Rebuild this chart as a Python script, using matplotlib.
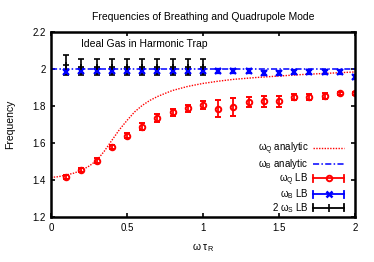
import matplotlib
matplotlib.use("Agg")
import matplotlib.pyplot as plt
from matplotlib.legend_handler import HandlerBase
from matplotlib.lines import Line2D

plt.rcParams['font.family'] = ['Liberation Sans', 'DejaVu Sans']
plt.rcParams['mathtext.fontset'] = 'custom'
plt.rcParams['mathtext.rm'] = 'Liberation Sans'
plt.rcParams['mathtext.it'] = 'Liberation Sans'

# analytic quadrupole curve
ana_x = [0.0, 0.05, 0.1, 0.15, 0.2, 0.25, 0.3, 0.35, 0.4, 0.45, 0.5, 0.55, 0.6, 0.65, 0.7, 0.75, 0.8, 0.9,
         1.0, 1.1, 1.2, 1.35, 1.5, 1.65, 1.8, 1.9, 2.0]
ana_q = [1.414, 1.418, 1.427, 1.437, 1.452, 1.475, 1.505, 1.555, 1.614, 1.672, 1.722, 1.768, 1.803, 1.830, 1.851,
         1.868, 1.884, 1.906, 1.922, 1.934, 1.944, 1.954, 1.962, 1.970, 1.976, 1.980, 1.984]
ana_b_x = [0.0, 2.0]
ana_b = [2.0, 2.0]

# LB quadrupole
q_x = [0.1, 0.2, 0.3, 0.4, 0.5, 0.6, 0.7, 0.8, 0.9, 1.0, 1.1, 1.2, 1.3, 1.4, 1.5, 1.6, 1.7, 1.8, 1.9, 2.0]
q_y = [1.418, 1.454, 1.505, 1.578, 1.640, 1.688, 1.735, 1.766, 1.787, 1.805, 1.786, 1.796, 1.822, 1.825, 1.825,
       1.850, 1.850, 1.854, 1.868, 1.868]
q_err = [0.010, 0.010, 0.012, 0.012, 0.012, 0.018, 0.020, 0.020, 0.020, 0.020, 0.047, 0.048, 0.029, 0.029, 0.029,
         0.015, 0.015, 0.015, 0.010, 0.008]

# LB breathing
b_x = [0.1, 0.2, 0.3, 0.4, 0.5, 0.6, 0.7, 0.8, 0.9, 1.0, 1.1, 1.2, 1.3, 1.4, 1.5, 1.6, 1.7, 1.8, 1.9, 2.0]
b_y = [1.985, 1.988, 1.988, 1.988, 1.988, 1.988, 1.988, 1.988, 1.988, 1.988, 1.989, 1.989, 1.988, 1.978, 1.978,
       1.983, 1.983, 1.983, 1.983, 1.958]
b_err = [0.010] * 20

# LB 2*omega_S
s_x = [0.1, 0.2, 0.3, 0.4, 0.5, 0.6, 0.7, 0.8, 0.9, 1.0]
s_y = [2.02, 2.01, 2.01, 2.01, 2.01, 2.01, 2.01, 2.01, 2.01, 2.01]
s_err = [0.055, 0.042, 0.042, 0.042, 0.042, 0.042, 0.042, 0.042, 0.042, 0.042]

legend_labels = [r'$\omega_Q$ analytic', r'$\omega_B$ analytic', r'$\omega_Q$ LB', r'$\omega_B$ LB', r'2 $\omega_S$ LB']


class HandlerHBar(HandlerBase):
    """gnuplot-style legend sample: horizontal bar with end caps and a marker in the middle."""
    def __init__(self, color, marker, ms, mew, mfc):
        super().__init__()
        self.color, self.marker, self.ms, self.mew, self.mfc = color, marker, ms, mew, mfc

    def create_artists(self, legend, orig_handle, xdescent, ydescent, width, height, fontsize, trans):
        y = height / 2 - ydescent
        x0, x1 = -xdescent, width - xdescent
        cap = 2.5
        line = Line2D([x0, x1], [y, y], color=self.color, lw=1.3, transform=trans)
        c1 = Line2D([x0, x0], [y - cap, y + cap], color=self.color, lw=1.3, transform=trans)
        c2 = Line2D([x1, x1], [y - cap, y + cap], color=self.color, lw=1.3, transform=trans)
        m = Line2D([(x0 + x1) / 2], [y], color=self.color, marker=self.marker, ms=self.ms,
                   mew=self.mew, mfc=self.mfc, lw=0, transform=trans)
        return [line, c1, c2, m]


fig = plt.figure(figsize=(3.74, 2.62), dpi=100)
ax = fig.add_axes([51/374, 1 - 217/262, (355-51)/374, (217-32)/262])

l1, = ax.plot(ana_x, ana_q, color='red', linestyle=(0, (1, 1)), lw=1.0)
l2, = ax.plot(ana_b_x, ana_b, color='blue', linestyle=(0, (4, 1.5, 1, 1.5)), lw=1.1)
e1 = ax.errorbar(q_x, q_y, yerr=q_err, color='red', marker='o', ms=4, mfc='none', mew=1.4,
                 lw=0, elinewidth=1.3, capsize=2, capthick=1.3)
e2 = ax.errorbar(b_x, b_y, yerr=b_err, color='blue', marker='x', ms=4.5, mew=1.6,
                 lw=0, elinewidth=1.3, capsize=2, capthick=1.3)
e3 = ax.errorbar(s_x, s_y, yerr=s_err, color='black', marker='+', ms=5, mew=1.2,
                 lw=0, elinewidth=1.2, capsize=2, capthick=1.2)

ax.set_xlim(0, 2)
ax.set_ylim(1.2, 2.2)
ax.set_xticks([0, 0.5, 1, 1.5, 2])
ax.set_xticklabels(['0', '0.5', '1', '1.5', '2'])
ax.set_yticks([1.2, 1.4, 1.6, 1.8, 2.0, 2.2])
ax.set_yticklabels(['1.2', '1.4', '1.6', '1.8', '2', '2.2'])
ax.tick_params(direction='in', top=True, right=True, labelsize=7, length=3, width=1.2, pad=4)
for s in ax.spines.values():
    s.set_linewidth(1.8)

ax.set_title('Frequencies of Breathing and Quadrupole Mode', fontsize=7.5, pad=9)
ax.set_xlabel(r'$\omega\ \tau_R$', fontsize=7.5, labelpad=6)
ax.set_ylabel('Frequency', fontsize=7.5, labelpad=12)
ax.text(0.2, 2.135, 'Ideal Gas in Harmonic Trap', fontsize=7.5, ha='left', va='center')

h1 = Line2D([], [], color='red', linestyle=(0, (1, 1)), lw=1.0)
h2 = Line2D([], [], color='blue', linestyle=(0, (4, 1.5, 1, 1.5)), lw=1.1)
leg = ax.legend([h1, h2, e1, e2, e3], legend_labels,
                handler_map={e1: HandlerHBar('red', 'o', 4, 1.4, 'none'),
                             e2: HandlerHBar('blue', 'x', 5, 1.8, 'blue'),
                             e3: HandlerHBar('black', '|', 6, 1.2, 'black')},
                loc='lower right', frameon=False, markerfirst=False, fontsize=7,
                handlelength=3.2, labelspacing=0.0, handletextpad=0.5,
                borderaxespad=0.0, borderpad=0.0, bbox_to_anchor=(0.965, 0.01))

fig.savefig('out.png', dpi=100)
